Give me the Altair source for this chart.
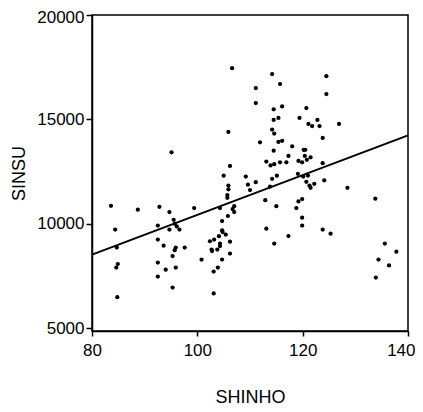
import altair as alt
import pandas as pd

shinho = [83.6, 88.7, 92.8, 94.7, 84.4, 92.5, 95.5, 95.7, 94.7, 96.1,
          96.6, 84.7, 92.5, 93.6, 95.9, 97.6, 95.7, 95.3, 84.9, 84.6,
          92.5, 94.0, 95.9, 92.5, 95.3, 84.8, 95.1,
          106.6, 114.2, 111.1, 115.7, 111.1, 114.5, 116.1, 114.5, 115.4, 119.4,
          105.9, 114.2, 114.6, 111.9, 115.4, 116.1, 118.0, 114.5, 117.3, 106.2,
          113.1, 113.9, 114.6, 115.7, 116.9, 119.2,
          105.0, 109.2, 105.9, 105.9, 109.6, 111.1, 110.0, 114.2, 115.1, 113.8,
          119.1, 105.7, 105.7, 99.4, 104.3, 107.0, 106.7, 107.0, 105.8, 112.9,
          115.0, 119.2, 118.8,
          104.7, 104.7, 104.8, 105.4, 104.1, 103.2, 102.4, 106.2, 104.3, 104.3,
          102.7, 102.8, 103.8, 113.1, 114.6, 117.3, 106.2, 100.8, 104.7, 103.9,
          103.1, 103.1,
          124.5, 124.5, 120.7, 122.8, 121.1, 121.8, 123.2, 126.9, 123.8, 120.2,
          120.5, 120.4, 121.5, 119.9, 120.8, 123.8, 120.1, 121.0, 120.7, 121.3,
          121.5, 122.2, 124.1, 128.5, 133.8, 119.9, 119.9, 119.9, 123.8, 125.3,
          135.6, 137.8, 134.4, 136.4, 133.9]

sinsu = [10860, 10670, 10810, 10560, 9720, 9910, 10190, 10000, 9720, 9870,
         9720, 8860, 9240, 8950, 8860, 8860, 8730, 8450, 8070, 7900,
         8140, 7800, 7900, 7470, 6940, 6480, 13420,
         17450, 17170, 16500, 16690, 15780, 15480, 15620, 14970, 15070, 15070,
         14400, 14510, 14320, 13900, 13920, 13970, 13710, 13500, 13250, 12770,
         12980, 12790, 12850, 12940, 12940, 13010,
         12300, 12260, 11830, 11650, 11870, 11990, 11610, 12150, 12300, 11780,
         12390, 11370, 11240, 10750, 10750, 10840, 10700, 10560, 10370, 11130,
         10840, 11070, 10750,
         10130, 9680, 9600, 9480, 9400, 9240, 9160, 9140, 9050, 8930,
         8760, 8690, 8760, 9760, 9050, 9410, 8570, 8280, 8280, 7900,
         7710, 6660,
         17070, 16210, 15540, 14970, 14780, 14680, 14680, 14780, 14110, 13540,
         13540, 13250, 13180, 12940, 13060, 12900, 12260, 12310, 12010, 11830,
         11720, 11910, 12080, 11720, 11200, 11180, 10290, 9910, 9720, 9520,
         9050, 8660, 8280, 8000, 7420]

fit_x = [80, 140]
fit_y = [8520, 14230]

x_ticks = [80, 100, 120, 140]
y_ticks = [5000, 10000, 15000, 20000]

pts = pd.DataFrame({"SHINHO": shinho, "SINSU": sinsu})
fit = pd.DataFrame({"SHINHO": fit_x, "SINSU": fit_y})

FONT = "Liberation Sans"

xs = alt.Scale(domain=[80, 140], nice=False, zero=False)
ys = alt.Scale(domain=[4860, 20000], nice=False, zero=False)

xaxis = alt.Axis(
    values=x_ticks, grid=False, tickSize=5, labelPadding=6,
    titlePadding=30, labelFlush=False, format="d",
    labelAlign=alt.condition("datum.value == 140", alt.value("right"), alt.value("center")),
    labelOffset=alt.condition("datum.value == 140", alt.value(7), alt.value(0)),
)
yaxis = alt.Axis(
    values=y_ticks, grid=False, tickSize=6, labelPadding=2,
    titlePadding=8, labelFlush=False, format="d",
    labelOffset=alt.condition("datum.value == 20000", alt.value(2), alt.value(0)),
)

points = alt.Chart(pts).mark_circle(size=18, color="black", opacity=1).encode(
    x=alt.X("SHINHO:Q", scale=xs, axis=xaxis, title="SHINHO"),
    y=alt.Y("SINSU:Q", scale=ys, axis=yaxis, title="SINSU"),
)

line = alt.Chart(fit).mark_line(color="black", strokeWidth=2).encode(
    x=alt.X("SHINHO:Q", scale=xs),
    y=alt.Y("SINSU:Q", scale=ys),
)

chart = (points + line).properties(
    width=316, height=316,
    background="white",
    autosize=alt.AutoSizeParams(type="none"),
    padding={"left": 84, "top": 7, "right": 7, "bottom": 80},
).configure_view(
    stroke="black", strokeWidth=1.5
).configure_axis(
    domainColor="black", domainWidth=1.5, tickColor="black", tickWidth=1.5,
    labelFont=FONT, labelFontSize=17, labelColor="black",
    titleFont=FONT, titleFontSize=18, titleFontWeight="normal", titleColor="black",
)

chart.save("out.html", embed_options={"renderer": "svg", "actions": False})
